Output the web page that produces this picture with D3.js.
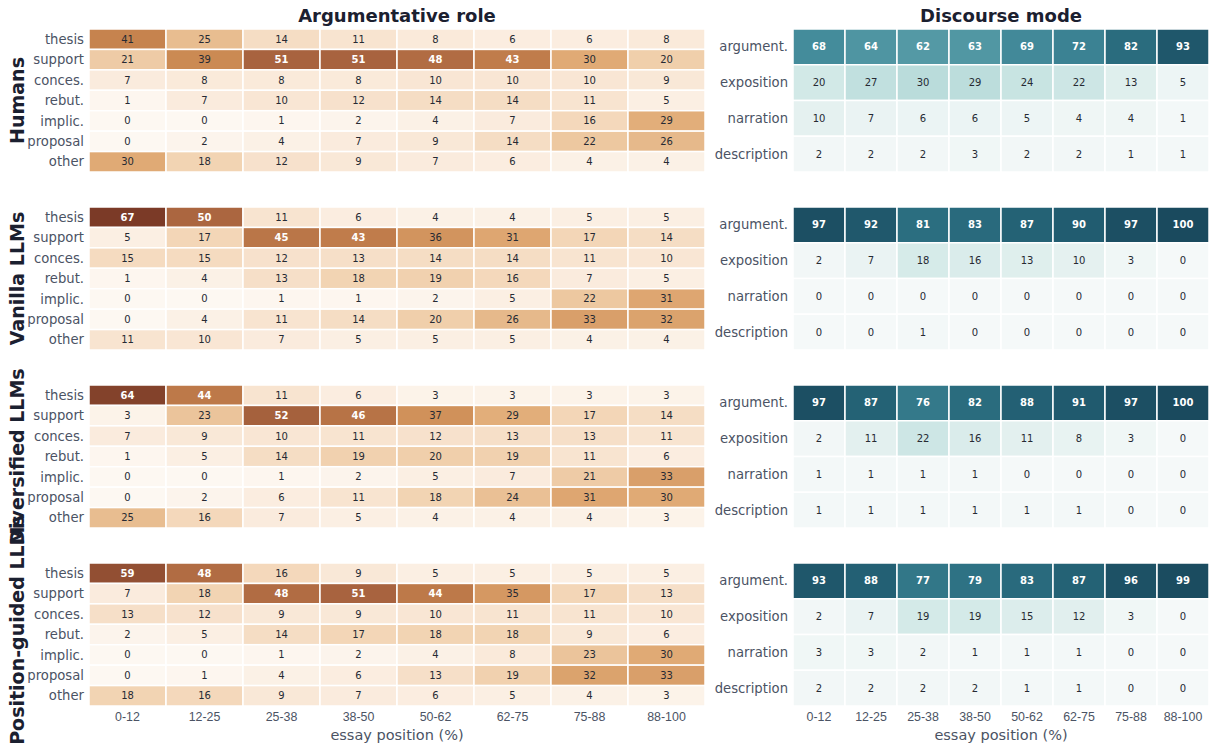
<!DOCTYPE html>
<html lang="en">
<head>
<meta charset="UTF-8">
<title>Argumentative role / Discourse mode</title>
<script src="https://cdnjs.cloudflare.com/ajax/libs/d3/7.8.5/d3.min.js"></script>
<style>
  body { margin:0; background:#fff; }
  svg { display:block; font-family:"DejaVu Sans", sans-serif; }
  .row-lbl { fill:#4b5364; font-size:13.2px; }
  .tick-lbl { fill:#4b5364; font-size:12.4px; }
  .axis-lbl { fill:#4b5364; font-size:14.5px; }
  .cell-txt { font-size:10px; }
</style>
</head>
<body>
<svg id="chart" width="1217" height="746"></svg>
<script>
  // --- data ---
  var positions = ["0-12", "12-25", "25-38", "38-50", "50-62", "62-75", "75-88", "88-100"]
  var groups = ["Humans", "Vanilla LLMs", "Diversified LLMs", "Position-guided LLMs"]
  var roles = ["thesis", "support", "conces.", "rebut.", "implic.", "proposal", "other"]
  var modes = ["argument.", "exposition", "narration", "description"]

  var humansRole = [
    [41, 25, 14, 11, 8, 6, 6, 8],
    [21, 39, 51, 51, 48, 43, 30, 20],
    [7, 8, 8, 8, 10, 10, 10, 9],
    [1, 7, 10, 12, 14, 14, 11, 5],
    [0, 0, 1, 2, 4, 7, 16, 29],
    [0, 2, 4, 7, 9, 14, 22, 26],
    [30, 18, 12, 9, 7, 6, 4, 4]
  ]
  var vanillaRole = [
    [67, 50, 11, 6, 4, 4, 5, 5],
    [5, 17, 45, 43, 36, 31, 17, 14],
    [15, 15, 12, 13, 14, 14, 11, 10],
    [1, 4, 13, 18, 19, 16, 7, 5],
    [0, 0, 1, 1, 2, 5, 22, 31],
    [0, 4, 11, 14, 20, 26, 33, 32],
    [11, 10, 7, 5, 5, 5, 4, 4]
  ]
  var diversifiedRole = [
    [64, 44, 11, 6, 3, 3, 3, 3],
    [3, 23, 52, 46, 37, 29, 17, 14],
    [7, 9, 10, 11, 12, 13, 13, 11],
    [1, 5, 14, 19, 20, 19, 11, 6],
    [0, 0, 1, 2, 5, 7, 21, 33],
    [0, 2, 6, 11, 18, 24, 31, 30],
    [25, 16, 7, 5, 4, 4, 4, 3]
  ]
  var guidedRole = [
    [59, 48, 16, 9, 5, 5, 5, 5],
    [7, 18, 48, 51, 44, 35, 17, 13],
    [13, 12, 9, 9, 10, 11, 11, 10],
    [2, 5, 14, 17, 18, 18, 9, 6],
    [0, 0, 1, 2, 4, 8, 23, 30],
    [0, 1, 4, 6, 13, 19, 32, 33],
    [18, 16, 9, 7, 6, 5, 4, 3]
  ]

  var humansMode = [
    [68, 64, 62, 63, 69, 72, 82, 93],
    [20, 27, 30, 29, 24, 22, 13, 5],
    [10, 7, 6, 6, 5, 4, 4, 1],
    [2, 2, 2, 3, 2, 2, 1, 1]
  ]
  var vanillaMode = [
    [97, 92, 81, 83, 87, 90, 97, 100],
    [2, 7, 18, 16, 13, 10, 3, 0],
    [0, 0, 0, 0, 0, 0, 0, 0],
    [0, 0, 1, 0, 0, 0, 0, 0]
  ]
  var diversifiedMode = [
    [97, 87, 76, 82, 88, 91, 97, 100],
    [2, 11, 22, 16, 11, 8, 3, 0],
    [1, 1, 1, 1, 0, 0, 0, 0],
    [1, 1, 1, 1, 1, 1, 0, 0]
  ]
  var guidedMode = [
    [93, 88, 77, 79, 83, 87, 96, 99],
    [2, 7, 19, 19, 15, 12, 3, 0],
    [3, 3, 2, 1, 1, 1, 0, 0],
    [2, 2, 2, 2, 1, 1, 0, 0]
  ]

  var roleData = [humansRole, vanillaRole, diversifiedRole, guidedRole]
  var modeData = [humansMode, vanillaMode, diversifiedMode, guidedMode]

  // --- layout ---
  var svg = d3.select("#chart")
  var panelTop = 29, panelStep = 178, panelH = 143

  var xRole = d3.scaleBand().domain(positions).range([89, 705])
  var xMode = d3.scaleBand().domain(positions).range([793, 1209])

  var roleColor = d3.scaleLinear()
    .domain([0, 10, 20, 30, 40, 50, 67])
    .range(["#fdf8f2", "#f9e6d4", "#f0cfab", "#e0aa75", "#c9864f", "#ab6640", "#7b3a27"])
    .interpolate(d3.interpolateRgb)
    .clamp(true)
  var modeColor = d3.scaleLinear()
    .domain([0, 10, 20, 30, 62, 70, 80, 90, 100])
    .range(["#f5f9f9", "#e5f1f0", "#d2e9e7", "#badcdb", "#5499a5", "#3f8797", "#2c7082", "#215c70", "#1a4a5e"])
    .interpolate(d3.interpolateRgb)
    .clamp(true)

  function drawHeat(data, cats, x, color, top, cut) {
    var y = d3.scaleBand().domain(cats).range([top, top + panelH])
    var cells = []
    data.forEach(function(row, i) {
      row.forEach(function(v, j) { cells.push({ r: cats[i], c: positions[j], v: v }) })
    })
    var g = svg.append("g")
    g.selectAll("rect").data(cells).join("rect")
      .attr("x", d => x(d.c))
      .attr("y", d => y(d.r))
      .attr("width", x.bandwidth())
      .attr("height", y.bandwidth())
      .attr("fill", d => color(d.v))
      .attr("stroke", "#fff")
      .attr("stroke-width", 1.5)
    g.selectAll("text").data(cells).join("text")
      .attr("class", "cell-txt")
      .attr("x", d => x(d.c) + x.bandwidth() / 2)
      .attr("y", d => y(d.r) + y.bandwidth() / 2)
      .attr("dy", "0.35em")
      .attr("text-anchor", "middle")
      .attr("fill", d => d.v > cut ? "#fff" : "#262a33")
      .attr("font-weight", d => d.v > cut ? "bold" : "normal")
      .text(d => d.v)

    // row labels
    svg.append("g").selectAll("text").data(cats).join("text")
      .attr("class", "row-lbl")
      .attr("x", x.range()[0] - 5)
      .attr("y", d => y(d) + y.bandwidth() / 2)
      .attr("dy", "0.35em")
      .attr("text-anchor", "end")
      .text(d => d)
  }

  groups.forEach(function(name, k) {
    var top = panelTop + k * panelStep
    drawHeat(roleData[k], roles, xRole, roleColor, top, 42)
    drawHeat(modeData[k], modes, xMode, modeColor, top, 45)

    // last label is longer than its panel; nudge it up so it stays on the page
    var cy = k === 3 ? 630 : top + panelH / 2
    svg.append("text")
      .attr("transform", `translate(24,${cy}) rotate(-90)`)
      .attr("text-anchor", "middle")
      .attr("font-size", 19)
      .attr("font-weight", "bold")
      .attr("fill", "#1b2030")
      .text(name)
  })

  // titles
  svg.append("text").attr("x", 397).attr("y", 22)
    .attr("text-anchor", "middle").attr("font-size", 18).attr("font-weight", "bold")
    .attr("fill", "#1b2030").text("Argumentative role")
  svg.append("text").attr("x", 1001).attr("y", 22)
    .attr("text-anchor", "middle").attr("font-size", 18).attr("font-weight", "bold")
    .attr("fill", "#1b2030").text("Discourse mode")

  // bottom axes
  var bottom = panelTop + 3 * panelStep + panelH
  ;[xRole, xMode].forEach(function(x) {
    var ax = svg.append("g").attr("transform", `translate(0,${bottom})`)
      .call(d3.axisBottom(x).tickSize(0).tickPadding(6))
    ax.select(".domain").remove()
    ax.selectAll("text").attr("class", "tick-lbl").attr("font-family", null).attr("font-size", null)
    var r = x.range()
    svg.append("text").attr("class", "axis-lbl")
      .attr("x", (r[0] + r[1]) / 2).attr("y", bottom + 34)
      .attr("text-anchor", "middle").text("essay position (%)")
  })
</script>
</body>
</html>
